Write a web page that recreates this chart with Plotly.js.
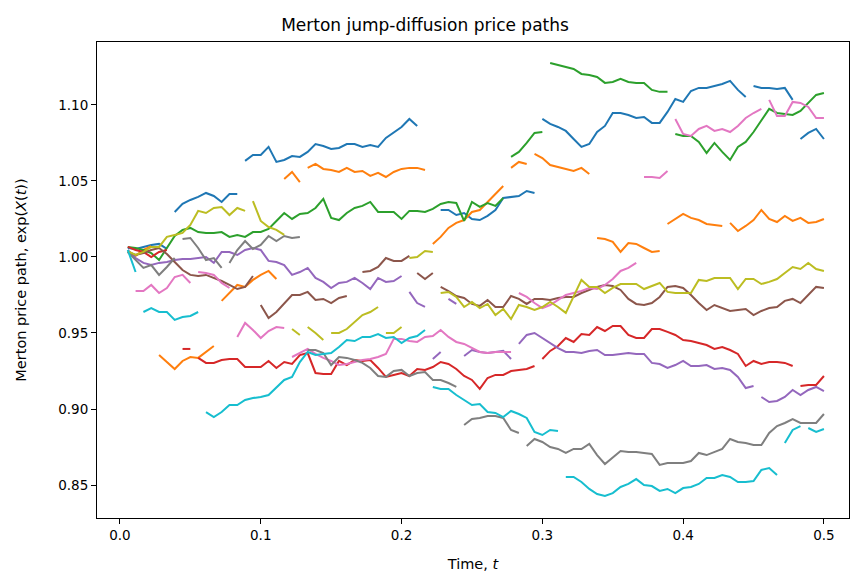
<!DOCTYPE html>
<html>
<head>
<meta charset="utf-8">
<script src="https://cdn.plot.ly/plotly-3.0.1.min.js"></script>
<style>
  html, body { margin: 0; padding: 0; background: #ffffff; }
  #chart { width: 850px; height: 580px; }
</style>
</head>
<body>
<div id="chart"></div>
<script>
// Simulation grid: 90 steps over the horizon T = 0.5
const T = 0.5;
const nSteps = 90;

// Each path is a list of continuous pieces: [first step index, values of exp(X(t))].
// A new piece begins after every jump, so no line joins the two sides of a jump.
const path0 = [
  [1, [1.0059, 1.0053, 1.0066, 1.0079, 1.0086, 1.0053]],
  [7, [1.0296, 1.0349, 1.0375, 1.0395, 1.0421, 1.0401, 1.0362, 1.0414, 1.0414]],
  [16, [1.0632, 1.0671, 1.0671, 1.0724, 1.0625, 1.0638, 1.0664, 1.0658, 1.0691, 1.0743, 1.0730, 1.0711,
        1.0717, 1.0743, 1.0743, 1.0724, 1.0737, 1.0724, 1.0783, 1.0822, 1.0855, 1.0908, 1.0862]],
  [41, [1.0309, 1.0309, 1.0276, 1.0289, 1.0250, 1.0243, 1.0270, 1.0309, 1.0388, 1.0395, 1.0401, 1.0434, 1.0421]],
  [54, [1.0908, 1.0875, 1.0855, 1.0829, 1.0776, 1.0724, 1.0743, 1.0822, 1.0862, 1.0947, 1.0947, 1.0934,
        1.0914, 1.0921, 1.0882, 1.0882, 1.0954, 1.1039, 1.1020, 1.1092, 1.1112, 1.1112, 1.1125, 1.1138,
        1.1158, 1.1099, 1.1053]],
  [81, [1.1125, 1.1112, 1.1112, 1.1105, 1.1112, 1.1033]],
  [87, [1.0776, 1.0816, 1.0842, 1.0776]]
];

const path1 = [
  [1, [1.0033, 1.0007, 1.0046, 1.0072]],
  [5, [0.9355, 0.9309, 0.9263, 0.9316, 0.9342, 0.9336, 0.9375, 0.9414]],
  [13, [0.9711, 0.9763, 0.9816, 0.9803, 0.9849, 0.9882, 0.9908, 0.9855]],
  [21, [1.0513, 1.0559, 1.0493]],
  [24, [1.0586, 1.0612, 1.0579, 1.0572, 1.0559, 1.0586, 1.0559, 1.0566, 1.0533, 1.0553, 1.0526, 1.0559,
        1.0579, 1.0586, 1.0586, 1.0572]],
  [40, [1.0086, 1.0132, 1.0191, 1.0224, 1.0243, 1.0296, 1.0309, 1.0362, 1.0414, 1.0467]],
  [50, [1.0586, 1.0625, 1.0612]],
  [53, [1.0678, 1.0651, 1.0605, 1.0592, 1.0579, 1.0566, 1.0586, 1.0546]],
  [61, [1.0125, 1.0118, 1.0099, 1.0033, 1.0092, 1.0086, 1.0059, 1.0033, 1.0039]],
  [70, [1.0217, 1.0250, 1.0283, 1.0257, 1.0243, 1.0217, 1.0211, 1.0204]],
  [78, [1.0224, 1.0171, 1.0204, 1.0243, 1.0309, 1.0250, 1.0230, 1.0270, 1.0237, 1.0257, 1.0224, 1.0230, 1.0250]]
];

const path2 = [
  [1, [1.0066, 1.0059, 1.0046, 1.0026, 0.9980, 1.0059, 1.0138, 1.0178, 1.0191, 1.0164,
       1.0158, 1.0158, 1.0164, 1.0132, 1.0145, 1.0132, 1.0164, 1.0164, 1.0184, 1.0237,
       1.0289, 1.0250, 1.0283, 1.0289, 1.0322, 1.0382, 1.0257, 1.0243, 1.0289, 1.0322,
       1.0336, 1.0362, 1.0296, 1.0296, 1.0296, 1.0250, 1.0303, 1.0303, 1.0296, 1.0316,
       1.0349, 1.0362, 1.0355, 1.0237, 1.0362, 1.0329, 1.0355, 1.0336, 1.0388]],
  [50, [1.0658, 1.0691, 1.0750, 1.0816, 1.0822]],
  [55, [1.1276, 1.1263, 1.1250, 1.1237, 1.1204, 1.1197, 1.1184, 1.1145, 1.1151, 1.1171, 1.1151, 1.1145,
        1.1145, 1.1099, 1.1086, 1.1086]],
  [71, [1.0809, 1.0796, 1.0796, 1.0757, 1.0684, 1.0750, 1.0691, 1.0638, 1.0724, 1.0757, 1.0822, 1.0901,
        1.0974, 1.0947, 1.0941, 1.0934, 1.0961, 1.1013, 1.1066, 1.1079]]
];

const path3 = [
  [1, [1.0066, 1.0046, 1.0033, 1.0000, 1.0033, 1.0046]],
  [8, [0.9395, 0.9395]],
  [10, [0.9336, 0.9303, 0.9303, 0.9322, 0.9329, 0.9329, 0.9276, 0.9276, 0.9276, 0.9316, 0.9270, 0.9309,
        0.9296, 0.9355, 0.9368, 0.9237, 0.9230, 0.9230, 0.9316, 0.9289, 0.9322, 0.9316, 0.9322, 0.9270,
        0.9211, 0.9224, 0.9237, 0.9217, 0.9263, 0.9257, 0.9276, 0.9309, 0.9296, 0.9263, 0.9217, 0.9191,
        0.9132, 0.9204, 0.9224, 0.9224, 0.9250, 0.9257, 0.9263, 0.9283]],
  [54, [0.9329, 0.9382, 0.9414, 0.9467, 0.9441, 0.9493, 0.9487, 0.9539, 0.9513, 0.9546, 0.9546, 0.9487,
        0.9467, 0.9467, 0.9526, 0.9526, 0.9507, 0.9487, 0.9454, 0.9447, 0.9434, 0.9421, 0.9395, 0.9408,
        0.9388, 0.9362, 0.9283, 0.9316, 0.9296, 0.9309, 0.9309, 0.9303, 0.9283]],
  [87, [0.9151, 0.9158, 0.9158, 0.9217]]
];

const path4 = [
  [1, [1.0046, 0.9993, 0.9961, 0.9947, 0.9961, 0.9967, 0.9980, 0.9987, 0.9987, 0.9993, 1.0000, 0.9961,
       1.0033, 1.0033, 1.0013, 1.0046, 1.0059, 1.0046, 0.9974, 0.9967, 0.9947, 0.9882, 0.9901, 0.9928,
       0.9862, 0.9836, 0.9796, 0.9829, 0.9836, 0.9862, 0.9829, 0.9789, 0.9862, 0.9836, 0.9842, 0.9875]],
  [37, [0.9770, 0.9697, 0.9671]],
  [40, [0.9329, 0.9375]],
  [42, [0.9724, 0.9691]],
  [44, [0.9349, 0.9388, 0.9375, 0.9368, 0.9375, 0.9382, 0.9329]],
  [51, [0.9428, 0.9487, 0.9500, 0.9467, 0.9434, 0.9401, 0.9375, 0.9375, 0.9368, 0.9382, 0.9388, 0.9355,
        0.9355, 0.9362, 0.9368, 0.9362, 0.9362, 0.9303, 0.9296, 0.9270, 0.9289, 0.9316, 0.9283, 0.9283,
        0.9289, 0.9263, 0.9270, 0.9257, 0.9211, 0.9138, 0.9151]],
  [82, [0.9079, 0.9046, 0.9053, 0.9079, 0.9125, 0.9092, 0.9125, 0.9145, 0.9118]]
];

const path5 = [
  [1, [1.0033, 1.0013, 1.0026, 1.0046, 1.0059, 1.0020, 0.9967, 0.9914, 0.9882, 0.9875, 0.9882, 0.9862,
       0.9842, 0.9816, 0.9789, 0.9803, 0.9875]],
  [18, [0.9684, 0.9599, 0.9638, 0.9697, 0.9750, 0.9750, 0.9770, 0.9717, 0.9724, 0.9697, 0.9730, 0.9743]],
  [31, [0.9901, 0.9908, 0.9934, 0.9993, 0.9974, 0.9974, 1.0007]],
  [38, [0.9895, 0.9855, 0.9895]],
  [41, [0.9803, 0.9776, 0.9743, 0.9730, 0.9691, 0.9678, 0.9717, 0.9671, 0.9671, 0.9743,
        0.9724, 0.9691, 0.9724, 0.9724, 0.9717, 0.9730, 0.9737, 0.9737, 0.9763, 0.9783,
        0.9803, 0.9816, 0.9809, 0.9783, 0.9724, 0.9691, 0.9684, 0.9697, 0.9737, 0.9803,
        0.9809, 0.9796, 0.9750, 0.9697, 0.9651, 0.9684, 0.9664, 0.9645, 0.9651, 0.9658,
        0.9618, 0.9645, 0.9664, 0.9671, 0.9711, 0.9724, 0.9697, 0.9750, 0.9803, 0.9796]]
];

const path6 = [
  [2, [0.9776, 0.9776, 0.9816, 0.9763, 0.9796, 0.9868, 0.9882, 0.9829]],
  [10, [0.9901, 0.9895, 0.9882, 0.9829, 0.9796]],
  [15, [0.9474, 0.9566, 0.9520, 0.9467, 0.9513, 0.9539, 0.9533]],
  [22, [0.9342, 0.9368, 0.9395, 0.9362, 0.9336, 0.9316, 0.9289, 0.9296, 0.9309, 0.9322, 0.9329, 0.9342,
        0.9362, 0.9461, 0.9461, 0.9447, 0.9441, 0.9474, 0.9480, 0.9520, 0.9474, 0.9441, 0.9428, 0.9401,
        0.9375, 0.9368, 0.9375, 0.9375, 0.9375]],
  [51, [0.9763, 0.9737, 0.9697, 0.9664, 0.9684, 0.9717, 0.9750, 0.9763, 0.9776, 0.9796, 0.9789, 0.9816,
        0.9855, 0.9908, 0.9928, 0.9961]],
  [67, [1.0526, 1.0526, 1.0520, 1.0566]],
  [71, [1.0908, 1.0809, 1.0796, 1.0842, 1.0862, 1.0829, 1.0842, 1.0822, 1.0862, 1.0914, 1.0947, 1.0974]],
  [83, [1.1033, 1.0928, 1.0928, 1.1020, 1.1013, 1.0987, 1.0914, 1.0914]]
];

const path7 = [
  [1, [1.0033, 0.9980, 0.9928, 0.9947, 0.9882, 0.9934, 0.9993]],
  [8, [1.0118, 1.0125, 1.0059, 0.9980, 0.9993, 0.9928]],
  [14, [0.9961, 1.0046, 1.0105, 1.0053, 1.0079, 1.0138, 1.0105, 1.0138, 1.0125, 1.0132]],
  [24, [0.9388, 0.9388, 0.9368, 0.9289, 0.9342, 0.9336, 0.9322, 0.9303, 0.9270, 0.9217,
        0.9211, 0.9250, 0.9257, 0.9217, 0.9237, 0.9243, 0.9191, 0.9191, 0.9171, 0.9145]],
  [44, [0.8895, 0.8934, 0.8941, 0.8954, 0.8954, 0.8941, 0.8862, 0.8842]],
  [52, [0.8757, 0.8803, 0.8783, 0.8750, 0.8737, 0.8711, 0.8737, 0.8737, 0.8770, 0.8697,
        0.8638, 0.8678, 0.8724, 0.8717, 0.8717, 0.8711, 0.8704, 0.8632, 0.8645, 0.8645,
        0.8645, 0.8658, 0.8711, 0.8697, 0.8717, 0.8737, 0.8803, 0.8783, 0.8776, 0.8763,
        0.8763, 0.8842, 0.8888, 0.8908, 0.8934, 0.8908, 0.8908, 0.8908, 0.8967]]
];

const path8 = [
  [1, [1.0039, 1.0013, 1.0033, 1.0066, 1.0066, 1.0132, 1.0145, 1.0158, 1.0211, 1.0303, 1.0289, 1.0322,
       1.0329, 1.0276, 1.0322, 1.0303]],
  [17, [1.0368, 1.0237, 1.0197, 1.0178, 1.0145]],
  [22, [0.9526, 0.9487]],
  [24, [0.9539, 0.9500, 0.9454]],
  [27, [0.9500, 0.9500, 0.9526, 0.9572, 0.9618, 0.9638, 0.9671]],
  [34, [0.9500, 0.9500, 0.9539]],
  [37, [0.9993, 1.0000, 1.0039, 1.0033]],
  [41, [0.9763, 0.9770, 0.9737, 0.9671, 0.9704, 0.9664, 0.9691, 0.9618, 0.9658, 0.9592,
        0.9684, 0.9671, 0.9651, 0.9671, 0.9704, 0.9671, 0.9632, 0.9743, 0.9849, 0.9803,
        0.9803, 0.9763, 0.9796, 0.9822, 0.9822, 0.9822, 0.9789, 0.9809, 0.9829, 0.9770,
        0.9763, 0.9763, 0.9763, 0.9849, 0.9842, 0.9862, 0.9862, 0.9862, 0.9789, 0.9855,
        0.9855, 0.9822, 0.9836, 0.9855, 0.9895, 0.9934, 0.9921, 0.9961, 0.9921, 0.9908]]
];

const path9 = [
  [1, [1.0046, 0.9901]],
  [3, [0.9638, 0.9664, 0.9638, 0.9638, 0.9586, 0.9605, 0.9612, 0.9638]],
  [11, [0.8980, 0.8947, 0.8980, 0.9026, 0.9026, 0.9059, 0.9072, 0.9079, 0.9092, 0.9145,
        0.9191, 0.9211, 0.9309, 0.9375, 0.9355, 0.9362, 0.9368, 0.9408, 0.9454, 0.9447,
        0.9474, 0.9474, 0.9493, 0.9467, 0.9474, 0.9434, 0.9467, 0.9480, 0.9520]],
  [40, [0.9145, 0.9132, 0.9132, 0.9092, 0.9059, 0.9026, 0.9033, 0.8980, 0.8974, 0.8947,
        0.8987, 0.8967, 0.8941, 0.8849, 0.8829, 0.8862, 0.8855]],
  [57, [0.8553, 0.8553, 0.8520, 0.8474, 0.8441, 0.8428, 0.8447, 0.8487, 0.8507, 0.8539,
        0.8500, 0.8493, 0.8461, 0.8474, 0.8447, 0.8480, 0.8487, 0.8507, 0.8546, 0.8546,
        0.8566, 0.8553, 0.8520, 0.8520, 0.8526, 0.8599, 0.8612, 0.8566]],
  [85, [0.8776, 0.8862, 0.8888]],
  [88, [0.8875, 0.8849, 0.8868]]
];

const paths = [path0, path1, path2, path3, path4, path5, path6, path7, path8, path9];
const colors = ['#1f77b4', '#ff7f0e', '#2ca02c', '#d62728', '#9467bd',
                '#8c564b', '#e377c2', '#7f7f7f', '#bcbd22', '#17becf'];

const dt = T / nSteps;

// Turn the pieces of one path into x/y arrays, with a null between pieces
function buildXY(pieces) {
  const x = [], y = [];
  pieces.forEach(([start, vals], i) => {
    if (i > 0) { x.push(null); y.push(null); }
    vals.forEach((v, j) => { x.push((start + j) * dt); y.push(v); });
  });
  return { x, y };
}

const traces = paths.map((pieces, i) => {
  const { x, y } = buildXY(pieces);
  return {
    x, y,
    type: 'scatter',
    mode: 'lines',
    connectgaps: false,
    line: { color: colors[i], width: 2 },
    hoverinfo: 'skip',
    showlegend: false
  };
});

const font = { family: 'DejaVu Sans, sans-serif', color: '#000000' };

const layout = {
  width: 850,
  height: 580,
  margin: { l: 97, r: 1, t: 42, b: 62 },
  paper_bgcolor: '#ffffff',
  plot_bgcolor: '#ffffff',
  font: Object.assign({ size: 13 }, font),
  title: {
    text: 'Merton jump-diffusion price paths',
    font: Object.assign({ size: 17 }, font),
    x: 0.5, xanchor: 'center',
    y: 1, yref: 'paper', yanchor: 'bottom',
    pad: { b: 11 }
  },
  xaxis: {
    range: [-0.0163, 0.5178],
    tickvals: [0.0, 0.1, 0.2, 0.3, 0.4, 0.5],
    ticktext: ['0.0', '0.1', '0.2', '0.3', '0.4', '0.5'],
    ticks: 'outside', ticklen: 5, tickwidth: 1, tickcolor: '#000000',
    showline: true, linecolor: '#000000', linewidth: 1, mirror: true,
    showgrid: false, zeroline: false,
    tickfont: Object.assign({ size: 13.5 }, font),
    title: { text: 'Time, <i>t</i>', font: Object.assign({ size: 14.5 }, font), standoff: 16 }
  },
  yaxis: {
    range: [0.8283, 1.1414],
    tickvals: [0.85, 0.90, 0.95, 1.00, 1.05, 1.10],
    ticktext: ['0.85', '0.90', '0.95', '1.00', '1.05', '1.10'],
    ticks: 'outside', ticklen: 5, tickwidth: 1, tickcolor: '#000000',
    showline: true, linecolor: '#000000', linewidth: 1, mirror: true,
    showgrid: false, zeroline: false,
    tickfont: Object.assign({ size: 13.5 }, font),
    title: { text: 'Merton price path, exp(<i>X</i>(<i>t</i>))', font: Object.assign({ size: 14.5 }, font), standoff: 28 }
  }
};

Plotly.newPlot('chart', traces, layout, { staticPlot: true, displayModeBar: false });
</script>
</body>
</html>
